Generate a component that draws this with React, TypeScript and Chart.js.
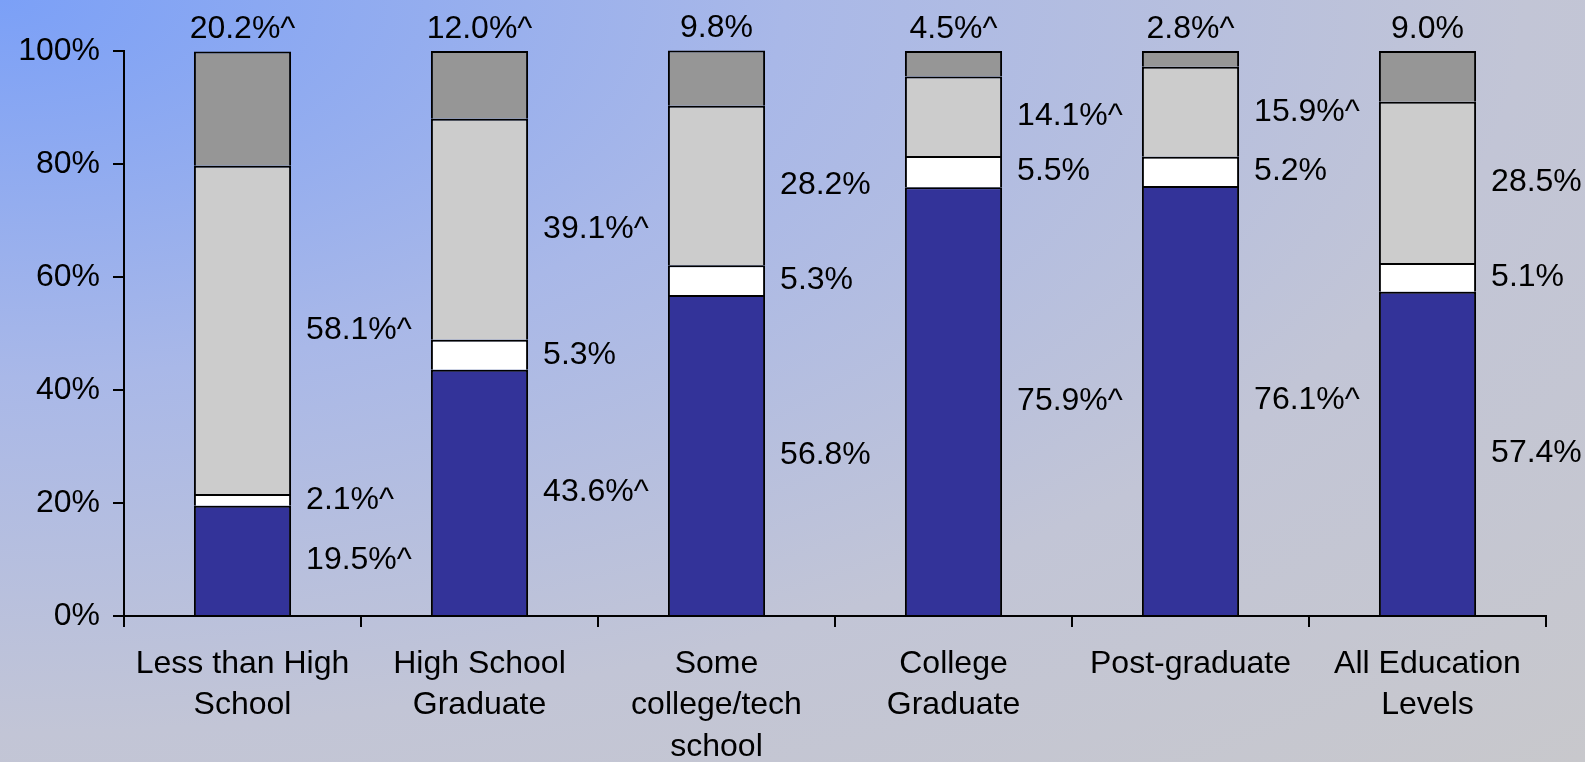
import React, { useEffect, useRef } from "react";
import { Chart, registerables } from "chart.js";

Chart.register(...registerables);

const categories: string[][] = [
  ["Less than High", "School"],
  ["High School", "Graduate"],
  ["Some", "college/tech", "school"],
  ["College", "Graduate"],
  ["Post-graduate"],
  ["All Education", "Levels"],
];

const blueValues = [19.5, 43.6, 56.8, 75.9, 76.1, 57.4];
const whiteValues = [2.1, 5.3, 5.3, 5.5, 5.2, 5.1];
const lightValues = [58.1, 39.1, 28.2, 14.1, 15.9, 28.5];
const darkValues = [20.2, 12.0, 9.8, 4.5, 2.8, 9.0];

const blueFlags = [true, true, false, true, true, false];
const whiteFlags = [true, false, false, false, false, false];
const lightFlags = [true, true, false, true, true, false];
const darkFlags = [true, true, false, true, true, false];

const yTicks = [0, 20, 40, 60, 80, 100];

const FONT = "'Liberation Sans', Arial, 'DejaVu Sans', sans-serif";
const FONT_SIZE = 32;

const labelPlugin = {
  id: "segLabels",
  afterDatasetsDraw(chart: any) {
    const ctx = chart.ctx;
    const flagSets = [blueFlags, whiteFlags, lightFlags, darkFlags];
    ctx.save();
    ctx.font = `${FONT_SIZE}px ${FONT}`;
    ctx.fillStyle = "#000";
    chart.data.datasets.forEach((ds: any, i: number) => {
      const meta = chart.getDatasetMeta(i);
      meta.data.forEach((bar: any, j: number) => {
        const p = bar.getProps(["x", "y", "base", "width"], true);
        const v = ds.data[j] as number;
        const txt = v.toFixed(1) + "%" + (flagSets[i][j] ? "^" : "");
        if (i === 3) {
          ctx.textAlign = "center";
          ctx.textBaseline = "middle";
          ctx.fillText(txt, p.x, p.y - 22);
        } else {
          ctx.textAlign = "left";
          ctx.textBaseline = "middle";
          ctx.fillText(txt, p.x + p.width / 2 + 15, (p.y + p.base) / 2);
        }
      });
    });
    ctx.restore();
  },
};

export default function App() {
  const ref = useRef<HTMLCanvasElement | null>(null);

  useEffect(() => {
    document.body.style.margin = "0";
    const canvas = ref.current;
    if (!canvas) return;
    Chart.defaults.font.family = FONT;
    const common = {
      borderColor: "#000",
      borderWidth: 2,
      borderSkipped: "start" as const,
      barPercentage: 0.41,
      categoryPercentage: 1,
      clip: false as const,
    };
    const chart = new Chart(canvas, {
      type: "bar",
      data: {
        labels: categories,
        datasets: [
          { label: "blue", data: blueValues, backgroundColor: "#333399", ...common },
          { label: "white", data: whiteValues, backgroundColor: "#FFFFFF", ...common },
          { label: "light", data: lightValues, backgroundColor: "#CCCCCC", ...common },
          { label: "dark", data: darkValues, backgroundColor: "#969696", ...common },
        ],
      },
      options: {
        animation: false,
        responsive: false,
        devicePixelRatio: 1,
        layout: { padding: { top: 51, right: 39, left: 0, bottom: 0 } },
        plugins: { legend: { display: false }, tooltip: { enabled: false } },
        scales: {
          x: {
            stacked: true,
            grid: {
              offset: true,
              drawOnChartArea: false,
              drawTicks: true,
              tickLength: 11,
              color: "#000",
              lineWidth: 2,
            },
            border: { display: true, color: "#000", width: 2 },
            ticks: {
              color: "#000",
              font: { size: FONT_SIZE, lineHeight: 1.3 },
              maxRotation: 0,
              minRotation: 0,
              autoSkip: false,
              padding: 16,
            },
            afterFit: (s: any) => {
              s.height = 146;
            },
          },
          y: {
            stacked: true,
            min: 0,
            max: 100,
            afterBuildTicks: (s: any) => {
              s.ticks = yTicks.map((v) => ({ value: v }));
            },
            ticks: {
              color: "#000",
              font: { size: FONT_SIZE },
              padding: 13,
              callback: (v: any) => v + "%",
            },
            grid: {
              drawOnChartArea: false,
              drawTicks: true,
              tickLength: 11,
              color: "#000",
              lineWidth: 2,
            },
            border: { display: true, color: "#000", width: 2 },
            afterFit: (s: any) => {
              s.width = 124;
            },
          },
        },
      },
      plugins: [labelPlugin],
    });
    return () => chart.destroy();
  }, []);

  return (
    <div
      style={{
        width: 1585,
        height: 762,
        background:
          "radial-gradient(ellipse farthest-corner at 0 0, #7BA0F7 0%, #A9B8E8 35%, #C2C5D6 68%, #C8C8CC 100%)",
      }}
    >
      <canvas ref={ref} width={1585} height={762} style={{ display: "block" }} />
    </div>
  );
}
